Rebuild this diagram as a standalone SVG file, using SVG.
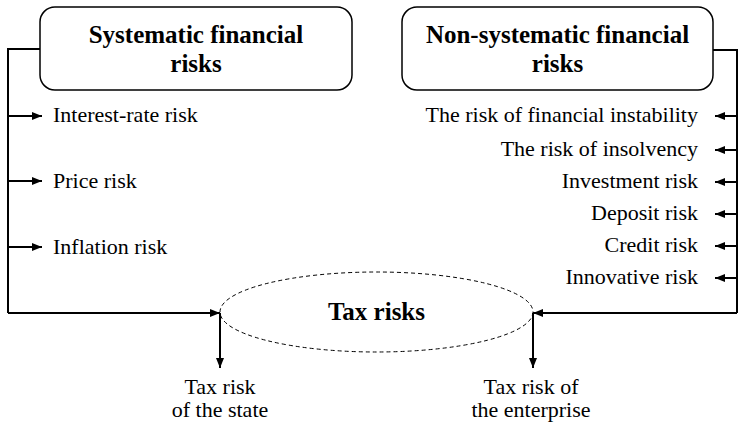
<svg xmlns="http://www.w3.org/2000/svg" width="738" height="425" viewBox="0 0 738 425">
<defs>
<marker id="ah" viewBox="0 0 10 8" refX="10" refY="4" markerWidth="10" markerHeight="8" markerUnits="userSpaceOnUse" orient="auto">
<path d="M0,0 L10,4 L0,8 z" fill="#000"/>
</marker>
<style>
.box{fill:#fff;stroke:#000;stroke-width:1.5}
.ln{fill:none;stroke:#000;stroke-width:2}
.ar{fill:none;stroke:#000;stroke-width:2;marker-end:url(#ah)}
.t{font-family:"Liberation Serif","Times New Roman",serif;font-size:22px;fill:#000}
.b{font-family:"Liberation Serif","Times New Roman",serif;font-size:25px;font-weight:bold;fill:#000;text-anchor:middle}
.r{text-anchor:end}
.m{text-anchor:middle}
</style>
</defs>
<rect width="738" height="425" fill="#fff"/>
<g id="connectors">
<path class="ln" d="M40,49 H8 V313"/>
<path class="ar" d="M8,313 H220"/>
<path class="ar" d="M8,116 H42"/>
<path class="ar" d="M8,181 H42"/>
<path class="ar" d="M8,247 H42"/>
<path class="ln" d="M713,50 H737 V313"/>
<path class="ar" d="M737,313 H533"/>
<path class="ar" d="M737,116 H715"/>
<path class="ar" d="M737,150 H715"/>
<path class="ar" d="M737,182 H715"/>
<path class="ar" d="M737,214 H715"/>
<path class="ar" d="M737,246 H715"/>
<path class="ar" d="M737,278 H715"/>
<path class="ar" d="M220,313 V368"/>
<path class="ar" d="M533,313 V368"/>
</g>
<g id="systematic">
<rect class="box" x="40" y="7" width="312" height="83" rx="15"/>
<text class="b" x="196" y="43">Systematic financial</text>
<text class="b" x="196" y="72">risks</text>
</g>
<g id="nonsystematic">
<rect class="box" x="402" y="7" width="311" height="83" rx="15"/>
<text class="b" x="557.5" y="43">Non-systematic financial</text>
<text class="b" x="557.5" y="72">risks</text>
</g>
<g id="sys-items">
<text class="t" x="53" y="122">Interest-rate risk</text>
<text class="t" x="53" y="188">Price risk</text>
<text class="t" x="53" y="254">Inflation risk</text>
</g>
<g id="nonsys-items">
<text class="t r" x="698" y="122">The risk of financial instability</text>
<text class="t r" x="698" y="156">The risk of insolvency</text>
<text class="t r" x="698" y="188">Investment risk</text>
<text class="t r" x="698" y="220">Deposit risk</text>
<text class="t r" x="698" y="252">Credit risk</text>
<text class="t r" x="698" y="284">Innovative risk</text>
</g>
<g id="tax-risks">
<ellipse cx="376.5" cy="312" rx="156.5" ry="40" fill="none" stroke="#000" stroke-width="1" stroke-dasharray="4,3"/>
<text class="b" x="376.5" y="320">Tax risks</text>
</g>
<g id="tax-state">
<text class="t m" x="220" y="394">Tax risk</text>
<text class="t m" x="220" y="417">of the state</text>
</g>
<g id="tax-enterprise">
<text class="t m" x="531" y="394">Tax risk of</text>
<text class="t m" x="531" y="417">the enterprise</text>
</g>
</svg>
